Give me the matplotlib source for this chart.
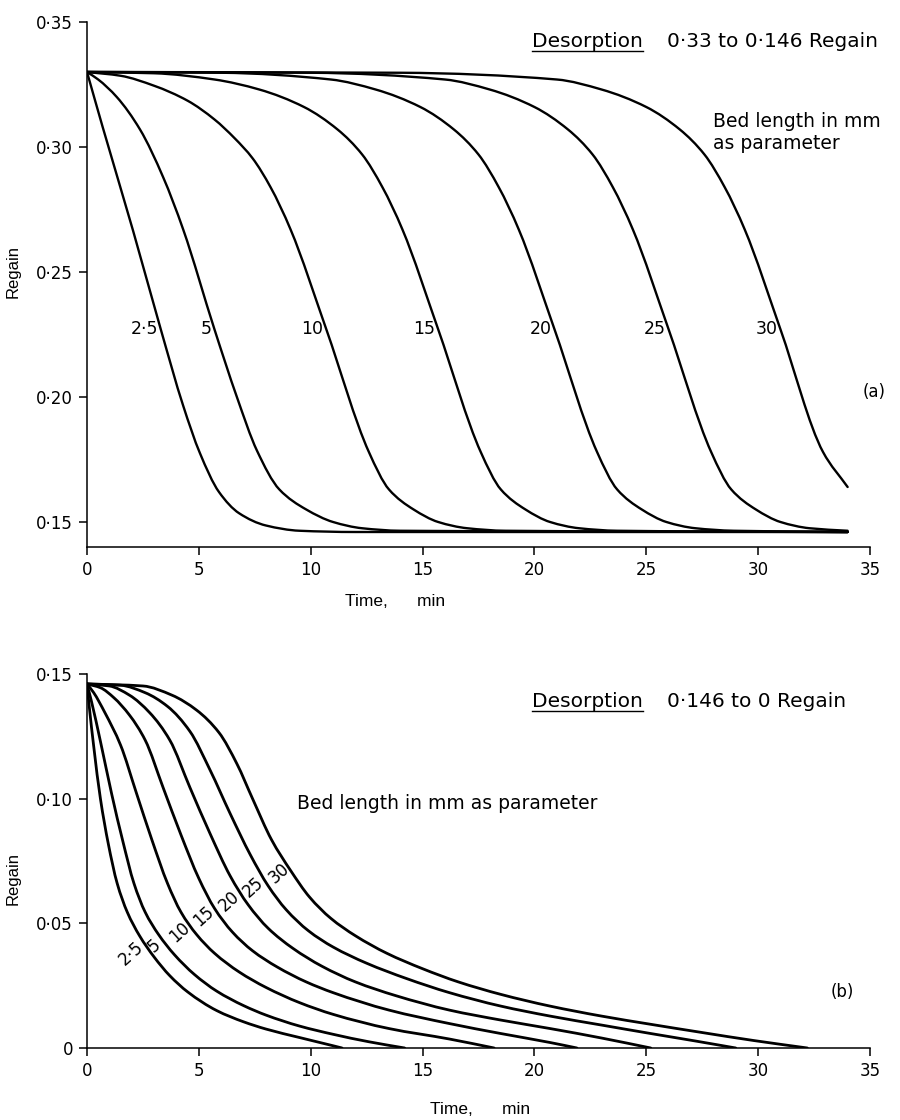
import numpy as np
import matplotlib
matplotlib.use('Agg')
import matplotlib.pyplot as plt
from matplotlib.lines import Line2D
from matplotlib.path import Path
from matplotlib.patches import PathPatch

# ---- panel (a): desorption 0.33 -> 0.146 regain, bed length as parameter
bed_a = ['2·5', '5', '10', '15', '20', '25', '30']
t_a = [
    [0, 0.7, 2.06, 3.3, 4.3, 5.05, 5.9, 6.8, 8.0, 9.5, 12.0, 34.0],
    [0, 0.5, 1.33, 2.37, 3.4, 4.3, 5.7, 6.7, 7.6, 8.6, 9.8, 11.0, 12.3, 14.0, 34.0],
    [0, 1.5, 3.0, 4.5, 5.7, 6.6, 7.4, 8.2, 9.1, 10.7, 12.6, 13.5, 14.6, 15.7, 17.0, 18.7, 34.0],
    [0, 3.0, 5.7, 7.7, 9.7, 11.2, 12.3, 13.2, 14.1, 15.7, 17.6, 18.5, 19.6, 20.7, 22.0, 23.7, 34.0],
    [0, 6.0, 10.9, 12.9, 14.9, 16.4, 17.5, 18.4, 19.3, 20.9, 22.8, 23.7, 24.8, 25.9, 27.2, 28.9, 34.0],
    [0, 10.0, 16.0, 18.0, 20.0, 21.5, 22.6, 23.5, 24.4, 26.0, 27.9, 28.8, 29.9, 31.0, 32.3, 34.0],
    [0, 14.0, 21.0, 23.0, 25.0, 26.5, 27.6, 28.5, 29.4, 31.0, 32.9, 34.0],
]
r_a = [
    [0.33, 0.308, 0.2665, 0.227, 0.1965, 0.1775, 0.162, 0.1535, 0.1486, 0.1465, 0.146, 0.146],
    [0.33, 0.327, 0.320, 0.307, 0.288, 0.267, 0.227, 0.200, 0.1785, 0.163, 0.155, 0.150, 0.1475, 0.1465, 0.146],
    [0.33, 0.3285, 0.3245, 0.3185, 0.311, 0.3035, 0.2955, 0.284, 0.267, 0.227, 0.178, 0.163, 0.155, 0.150, 0.1475, 0.1465, 0.146],
    [0.33, 0.3295, 0.327, 0.323, 0.316, 0.307, 0.297, 0.284, 0.267, 0.227, 0.178, 0.163, 0.155, 0.150, 0.1475, 0.1465, 0.146],
    [0.33, 0.3297, 0.327, 0.323, 0.316, 0.307, 0.297, 0.284, 0.267, 0.227, 0.178, 0.163, 0.155, 0.150, 0.1475, 0.1465, 0.146],
    [0.33, 0.3297, 0.327, 0.323, 0.316, 0.307, 0.297, 0.284, 0.267, 0.227, 0.178, 0.163, 0.155, 0.150, 0.1475, 0.1465],
    [0.33, 0.3297, 0.327, 0.323, 0.316, 0.307, 0.297, 0.284, 0.267, 0.227, 0.178, 0.164],
]
label_level_a = 0.227

# ---- panel (b): desorption 0.146 -> 0 regain
bed_b = ['2·5', '5', '10', '15', '20', '25', '30']
t_b = [
    [0, 0.1, 0.3, 0.6, 0.95, 1.35, 1.8, 2.35, 3.0, 3.7, 4.5, 5.8, 7.0, 8.0, 9.5, 11.0, 11.4],
    [0, 0.2, 0.6, 1.1, 1.6, 2.1, 2.6, 3.2, 3.9, 4.8, 5.8, 7.0, 8.0, 9.5, 11.0, 12.6, 14.2],
    [0, 0.3, 0.8, 1.5, 2.2, 2.9, 3.6, 4.2, 4.9, 5.7, 6.8, 8.0, 9.5, 11.0, 13.5, 16.2, 18.2],
    [0, 0.6, 1.2, 1.9, 2.6, 3.4, 4.2, 5.0, 5.7, 6.5, 7.4, 8.5, 9.8, 11.0, 13.5, 16.2, 18.5, 20.7, 21.9],
    [0, 1.0, 1.9, 2.8, 3.7, 4.6, 5.5, 6.4, 7.2, 8.1, 9.2, 10.5, 12.0, 13.8, 16.2, 18.5, 20.7, 23.0, 25.2],
    [0, 1.5, 2.6, 3.6, 4.6, 5.5, 6.4, 7.3, 8.1, 8.9, 9.9, 11.0, 12.5, 14.3, 16.2, 18.5, 20.7, 23.0, 25.2, 27.2, 29.0],
    [0, 2.5, 3.8, 4.9, 5.9, 6.7, 7.4, 8.25, 9.1, 9.95, 10.9, 12.0, 13.4, 15.0, 16.6, 18.5, 20.7, 23.0, 25.2, 27.5, 29.8, 32.2],
]
r_b = [
    [0.146, 0.137, 0.121, 0.100, 0.082, 0.066, 0.0545, 0.045, 0.0365, 0.029, 0.0225, 0.015, 0.0105, 0.0076, 0.0042, 0.0009, 0.0],
    [0.146, 0.139, 0.123, 0.102, 0.083, 0.066, 0.0545, 0.0455, 0.0375, 0.0295, 0.0228, 0.017, 0.0132, 0.0088, 0.0055, 0.0025, 0.0],
    [0.146, 0.1425, 0.1345, 0.1215, 0.1025, 0.0835, 0.066, 0.0545, 0.0455, 0.038, 0.0305, 0.0243, 0.0182, 0.0135, 0.0078, 0.0036, 0.0],
    [0.146, 0.1445, 0.1405, 0.1335, 0.1235, 0.1045, 0.0855, 0.068, 0.056, 0.0465, 0.039, 0.0325, 0.0265, 0.0222, 0.0152, 0.0098, 0.0058, 0.0022, 0.0],
    [0.146, 0.1452, 0.1415, 0.1345, 0.1235, 0.1045, 0.086, 0.069, 0.0575, 0.048, 0.040, 0.0328, 0.0265, 0.021, 0.0152, 0.0112, 0.0078, 0.004, 0.0],
    [0.146, 0.1455, 0.1425, 0.137, 0.127, 0.1115, 0.094, 0.0775, 0.065, 0.0555, 0.047, 0.0405, 0.034, 0.0278, 0.0222, 0.0168, 0.0128, 0.0092, 0.0058, 0.0028, 0.0],
    [0.146, 0.1452, 0.1415, 0.1355, 0.1265, 0.114, 0.100, 0.0835, 0.0712, 0.0605, 0.052, 0.045, 0.038, 0.0318, 0.0265, 0.0215, 0.0168, 0.0128, 0.0095, 0.0062, 0.003, 0.0],
]
# where the rotated curve labels sit (time, regain)
label_pos_b = [(1.97, 0.038), (3.0, 0.0412), (4.16, 0.0464), (5.2, 0.0528),
               (6.35, 0.0588), (7.42, 0.0644), (8.58, 0.070)]

xticks = [0, 5, 10, 15, 20, 25, 30, 35]
yticks_a = [0.15, 0.20, 0.25, 0.30, 0.35]
ylabels_a = ['0·15', '0·20', '0·25', '0·30', '0·35']
yticks_b = [0, 0.05, 0.10, 0.15]
ylabels_b = ['0', '0·05', '0·10', '0·15']

W, H = 900, 1120
fig = plt.figure(figsize=(W / 100, H / 100), dpi=100)
ax1 = fig.add_axes([87 / W, 1 - 547 / H, 783 / W, 525 / H])
ax2 = fig.add_axes([87 / W, 1 - 1048 / H, 783 / W, 374 / H])

narrow = ['Liberation Sans Narrow', 'Liberation Sans', 'DejaVu Sans']


def smooth_curve(ax, t, r, lw):
    # draw the read points as a shape-preserving cubic (bezier) path
    t = np.asarray(t, float)
    r = np.asarray(r, float)
    h = np.diff(t)
    d = np.diff(r) / h
    m = np.zeros_like(r)
    m[0], m[-1] = d[0], d[-1]
    for k in range(1, len(r) - 1):
        if d[k - 1] * d[k] > 0:
            w1 = 2 * h[k] + h[k - 1]
            w2 = h[k] + 2 * h[k - 1]
            m[k] = (w1 + w2) / (w1 / d[k - 1] + w2 / d[k])
    verts = [(t[0], r[0])]
    codes = [Path.MOVETO]
    for k in range(len(h)):
        verts += [(t[k] + h[k] / 3, r[k] + m[k] * h[k] / 3),
                  (t[k + 1] - h[k] / 3, r[k + 1] - m[k + 1] * h[k] / 3),
                  (t[k + 1], r[k + 1])]
        codes += [Path.CURVE4] * 3
    ax.add_patch(PathPatch(Path(verts, codes), fill=False, edgecolor='black',
                           lw=lw, capstyle='round', joinstyle='round'))


def style(ax, yt, yl, ylim):
    ax.set_xlim(0, 35)
    ax.set_ylim(*ylim)
    for s in ['top', 'right']:
        ax.spines[s].set_visible(False)
    for s in ['left', 'bottom']:
        ax.spines[s].set_linewidth(1.1)
    ax.set_xticks(xticks)
    ax.set_xticklabels([str(v) for v in xticks])
    ax.set_yticks(yt)
    ax.set_yticklabels(yl)
    ax.tick_params(direction='out', length=6, width=1.1, labelsize=12, pad=4)


style(ax1, yticks_a, ylabels_a, (0.14, 0.35))
style(ax2, yticks_b, ylabels_b, (0, 0.15))

for name, t, r in zip(bed_a, t_a, r_a):
    smooth_curve(ax1, t, r, 1.7)
    tx = np.interp(label_level_a, r[::-1], t[::-1])
    ax1.annotate(name, (tx, label_level_a), xytext=(-2, 0), textcoords='offset points',
                 ha='right', va='center', fontsize=12.5)

for name, t, r, (lx, ly) in zip(bed_b, t_b, r_b, label_pos_b):
    smooth_curve(ax2, t, r, 2.0)
    ax2.text(lx, ly, name, rotation=42, ha='center', va='center', fontsize=12)

for ax, ly in [(ax1, 0.524), (ax2, 0.453)]:
    ax.set_ylabel('Regain', family=narrow, fontsize=12)
    ax.yaxis.set_label_coords(-0.085, ly)

fig.text(395 / W, 1 - 602 / H, 'Time,      min', family=narrow, fontsize=12.5, ha='center', va='center')
fig.text(480 / W, 1 - 1110 / H, 'Time,      min', family=narrow, fontsize=12.5, ha='center', va='center')

fig.text(874 / W, 1 - 392 / H, '(a)', fontsize=12, ha='center', va='center')
fig.text(842 / W, 1 - 992 / H, '(b)', fontsize=12, ha='center', va='center')

fig.text(713 / W, 1 - 127 / H, 'Bed length in mm', fontsize=13.5, ha='left', va='baseline')
fig.text(713 / W, 1 - 149 / H, 'as parameter', fontsize=13.5, ha='left', va='baseline')
fig.text(297 / W, 1 - 809 / H, 'Bed length in mm as parameter', fontsize=13.5,
         ha='left', va='baseline')

titles = []
for yb, rest in [(46.7, '0·33 to 0·146 Regain'), (706.7, '0·146 to 0 Regain')]:
    d = fig.text(532 / W, 1 - yb / H, 'Desorption', fontsize=14.5, ha='left', va='baseline')
    fig.text(667 / W, 1 - yb / H, rest, fontsize=14.5, ha='left', va='baseline')
    titles.append((d, yb))

fig.canvas.draw()
for d, yb in titles:
    bb = d.get_window_extent()
    yy = 1 - (yb + 4) / H
    fig.add_artist(Line2D([bb.x0 / W, bb.x1 / W], [yy, yy], color='black', lw=1.0,
                          transform=fig.transFigure))

fig.savefig('out.png', dpi=100)
